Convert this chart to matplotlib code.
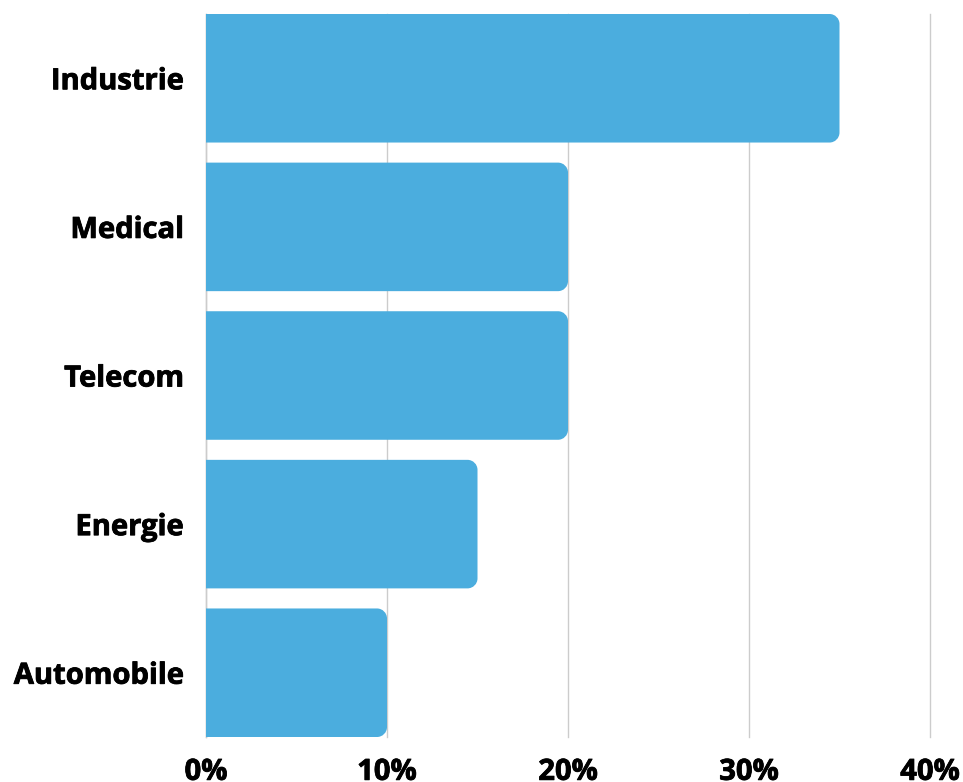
import matplotlib
matplotlib.use("Agg")
import matplotlib.pyplot as plt
import matplotlib.patheffects as pe
from matplotlib.path import Path
from matplotlib.patches import PathPatch
from matplotlib.ticker import FuncFormatter

categories = ["Industrie", "Medical", "Telecom", "Energie", "Automobile"]
values = [35, 20, 20, 15, 10]
x_ticks = [0, 10, 20, 30, 40]

W, H = 963, 782
fig = plt.figure(figsize=(W / 100, H / 100), dpi=100)
ax = fig.add_axes([206 / W, 1 - 737 / H, (930 - 206) / W, (737 - 14) / H])

bar_h = 128 / 148
bars = ax.barh(range(len(categories)), values, height=bar_h, color="none")
ax.set_xlim(0, 40)
ax.set_ylim(len(categories) - 1 + bar_h / 2, -bar_h / 2)

# rounded right corners
px_per_x = (930 - 206) / 40
px_per_y = (737 - 14) / (len(categories) - 1 + bar_h)
r_px = 10
rx = r_px / px_per_x
ry = r_px / px_per_y
k = 0.5523
for b in bars:
    x0, y0 = b.get_x(), b.get_y()
    w, h = b.get_width(), b.get_height()
    x1, y1 = x0 + w, y0 + h
    verts = [
        (x0, y0),
        (x1 - rx, y0),
        (x1 - rx + k * rx, y0), (x1, y0 + ry - k * ry), (x1, y0 + ry),
        (x1, y1 - ry),
        (x1, y1 - ry + k * ry), (x1 - rx + k * rx, y1), (x1 - rx, y1),
        (x0, y1),
        (x0, y0),
    ]
    codes = [Path.MOVETO, Path.LINETO,
             Path.CURVE4, Path.CURVE4, Path.CURVE4,
             Path.LINETO,
             Path.CURVE4, Path.CURVE4, Path.CURVE4,
             Path.LINETO, Path.CLOSEPOLY]
    ax.add_patch(PathPatch(Path(verts, codes), facecolor="#4BADDE",
                           edgecolor="none", zorder=3))

ax.set_xticks(x_ticks)
ax.xaxis.set_major_formatter(FuncFormatter(lambda v, p: f"{int(v)}%"))
ax.set_yticks(range(len(categories)))
ax.set_yticklabels(categories)
ax.grid(axis="x", color="#cccccc", linewidth=1, zorder=0)
for gl in ax.get_xgridlines():
    gl.set_clip_on(False)
ax.set_axisbelow(True)
for s in ["top", "right", "bottom"]:
    ax.spines[s].set_visible(False)
ax.spines["left"].set_color("#cccccc")
ax.spines["left"].set_linewidth(1)
ax.tick_params(axis="both", length=0)
ax.tick_params(axis="y", pad=16)
ax.tick_params(axis="x", pad=15)
fx = [pe.withStroke(linewidth=0.6, foreground="black")]
for lab in ax.get_xticklabels() + ax.get_yticklabels():
    lab.set_fontfamily("Open Sans")
    lab.set_fontweight("bold")
    lab.set_fontsize(21)
    lab.set_color("black")
    lab.set_path_effects(fx)

fig.savefig("out.png", dpi=100)
